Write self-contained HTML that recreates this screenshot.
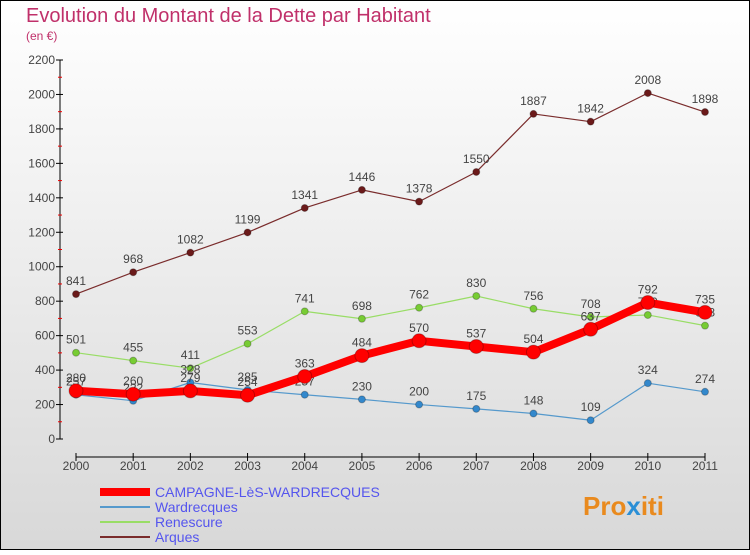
<!DOCTYPE html>
<html><head><meta charset="utf-8"><style>
body{margin:0;width:750px;height:550px;overflow:hidden;font-family:"Liberation Sans",sans-serif}
</style></head><body>
<svg width="750" height="550" xmlns="http://www.w3.org/2000/svg">
<defs><linearGradient id="bg" x1="0" y1="0" x2="0" y2="1"><stop offset="0" stop-color="#ffffff"/><stop offset="1" stop-color="#d8d8d8"/></linearGradient></defs>
<rect x="0.5" y="0.5" width="749" height="549" fill="url(#bg)" stroke="#000"/>
<text x="26" y="22" font-size="20" fill="#c0306a">Evolution du Montant de la Dette par Habitant</text>
<text x="26" y="40" font-size="12" fill="#c0306a">(en €)</text>
<g id="axes"></g><g id="series"></g><g id="legend"></g>
<text x="583" y="515" font-size="26" font-weight="bold" fill="#e98a1e">Pro<tspan fill="#2a8fd6">x</tspan>iti</text>
</svg>
<script>
const years=[2000,2001,2002,2003,2004,2005,2006,2007,2008,2009,2010,2011];
const yTicks=[0,200,400,600,800,1000,1200,1400,1600,1800,2000,2200];
const campagne=[280,260,279,254,363,484,570,537,504,637,792,735];
const wardrecques=[257,222,328,285,257,230,200,175,148,109,324,274];
const renescure=[501,455,411,553,741,698,762,830,756,708,720,658];
const arques=[841,968,1082,1199,1341,1446,1378,1550,1887,1842,2008,1898];
const NS="http://www.w3.org/2000/svg";
const X=i=>76+i*(705-76)/11;
const Y=v=>439-v*(439-60)/2200;
function mk(t,a,p){const e=document.createElementNS(NS,t);for(const k in a)e.setAttribute(k,a[k]);p.appendChild(e);return e;}
const ax=document.getElementById('axes');
let l=mk('line',{x1:60,y1:60,x2:60,y2:439,stroke:'#000'},ax);


l=mk('line',{x1:76,y1:457,x2:705,y2:457,stroke:'#000'},ax);


yTicks.forEach((v,i)=>{mk('line',{x1:56,y1:Y(v),x2:63,y2:Y(v),stroke:'#000'},ax);
if(i<yTicks.length-1)mk('line',{x1:58,y1:Y(v+100),x2:62,y2:Y(v+100),stroke:'#e00'},ax);
const t=mk('text',{x:55,y:Y(v)+4,'text-anchor':'end','font-size':12,fill:'#444'},ax);t.textContent=v;

});
years.forEach((y,i)=>{mk('line',{x1:X(i),y1:453,x2:X(i),y2:461,stroke:'#000'},ax);
const t=mk('text',{x:X(i),y:470,'text-anchor':'middle','font-size':12,fill:'#444'},ax);t.textContent=y;

});
const sg=document.getElementById('series');
function series(d,color,w,r,name,dot){
const g=mk('g',{},sg);


mk('polyline',{points:d.map((v,i)=>X(i)+','+Y(v)).join(' '),fill:'none',stroke:color,'stroke-width':w,'stroke-linejoin':'round'},g);
d.forEach((v,i)=>{const c=mk('circle',{cx:X(i),cy:Y(v),r:r,fill:dot,stroke:'rgba(0,0,0,0.25)'},g);


const t=mk('text',{x:X(i),y:Y(v)-9,'text-anchor':'middle','font-size':12,fill:'#444'},g);t.textContent=v;});}
series(arques,'#7a2c2c',1.2,3.5,'arques-series','#6b1a1a');
series(renescure,'#99dd66',1.2,3.5,'renescure-series','#77cc33');
series(wardrecques,'#5599cc',1.2,3.5,'wardrecques-series','#3388cc');
series(campagne,'#ff0000',8,7,'campagne-series','#ff0000');
const lg=document.getElementById('legend');
[['CAMPAGNE-LèS-WARDRECQUES','#ff0000',8],['Wardrecques','#5599cc',2],['Renescure','#99dd66',2],['Arques','#7a2c2c',2]].forEach((e,i)=>{
const y=492+i*15;
const g=mk('g',{},lg);


mk('line',{x1:100,y1:y,x2:150,y2:y,stroke:e[1],'stroke-width':e[2]},g);
const t=mk('text',{x:155,y:y+5,'font-size':14,fill:'#5555ee'},g);t.textContent=e[0];});
</script>
</body></html>
